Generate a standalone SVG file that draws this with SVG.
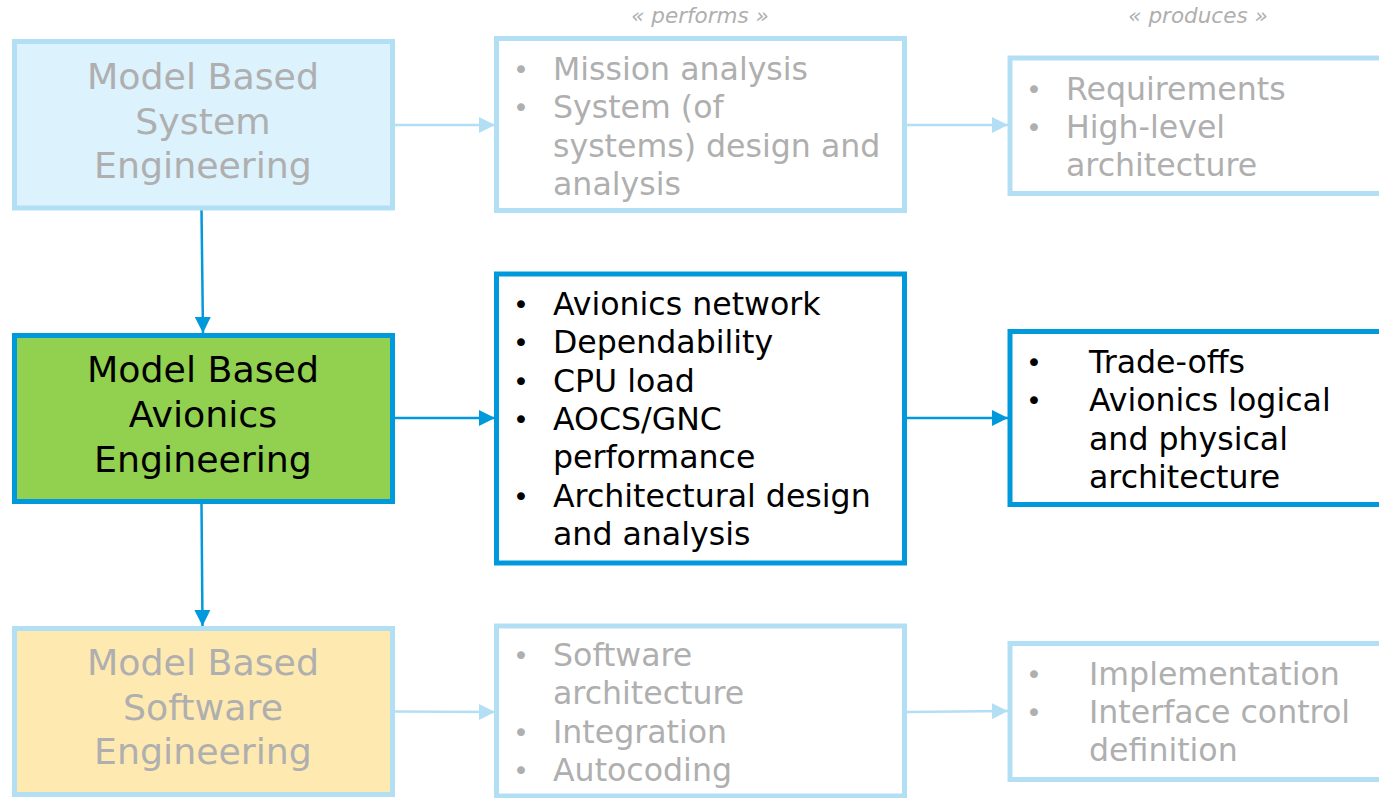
<svg xmlns="http://www.w3.org/2000/svg" width="1379" height="798" viewBox="0 0 1379 798">
  <style>
    text { font-family: "DejaVu Sans", Verdana, sans-serif; }
    .title { font-size: 36.3px; text-anchor: middle; }
    .body { font-size: 31.6px; }
    .dot { font-size: 27px; text-anchor: middle; }
    .stereo { font-size: 21.5px; font-style: italic; fill: #afafaf; text-anchor: middle; }
    .muted { fill: #afafaf; }
    .dark { fill: #000000; }
    .box-light { stroke: #b3dff4; stroke-width: 5; }
    .box-strong { stroke: #0099db; stroke-width: 5; }
    .conn-light { stroke: #b3dff4; stroke-width: 2.5; fill: none; }
    .conn-strong { stroke: #0099db; stroke-width: 2.5; fill: none; }
  </style>
  <defs>
    <marker id="arrow-light" markerUnits="userSpaceOnUse" markerWidth="16" markerHeight="16" viewBox="0 0 16 16" refX="16" refY="8" orient="auto">
      <path d="M0,0 L16,8 L0,16 z" fill="#b3dff4"/>
    </marker>
    <marker id="arrow-strong" markerUnits="userSpaceOnUse" markerWidth="16" markerHeight="16" viewBox="0 0 16 16" refX="16" refY="8" orient="auto">
      <path d="M0,0 L16,8 L0,16 z" fill="#0099db"/>
    </marker>
  </defs>

  <rect width="1379" height="798" fill="#ffffff"/>

  <!-- stereotype labels -->
  <text class="stereo" x="700" y="23">« performs »</text>
  <text class="stereo" x="1198" y="23">« produces »</text>

  <!-- connectors -->
  <g id="connectors">
    <line class="conn-light" x1="395" y1="125" x2="495" y2="125" marker-end="url(#arrow-light)"/>
    <line class="conn-light" x1="907" y1="125" x2="1008" y2="125" marker-end="url(#arrow-light)"/>
    <line class="conn-strong" x1="201.5" y1="210" x2="203" y2="333" marker-end="url(#arrow-strong)"/>
    <line class="conn-strong" x1="395" y1="418" x2="495" y2="418" marker-end="url(#arrow-strong)"/>
    <line class="conn-strong" x1="907" y1="418" x2="1008" y2="418" marker-end="url(#arrow-strong)"/>
    <line class="conn-strong" x1="201.5" y1="504" x2="202.5" y2="626" marker-end="url(#arrow-strong)"/>
    <line class="conn-light" x1="395" y1="711.5" x2="495" y2="712" marker-end="url(#arrow-light)"/>
    <line class="conn-light" x1="907" y1="712" x2="1008" y2="711" marker-end="url(#arrow-light)"/>
  </g>

  <!-- left column -->
  <g id="mbse">
    <rect class="box-light" x="14.5" y="41.5" width="378" height="166.5" fill="#dcf2fd"/>
    <text class="title muted" x="203" y="89">Model Based</text>
    <text class="title muted" x="203" y="133.5">System</text>
    <text class="title muted" x="203" y="178">Engineering</text>
  </g>

  <g id="mbae">
    <rect class="box-strong" x="14.5" y="335.5" width="378" height="166" fill="#92d050"/>
    <text class="title dark" x="203" y="381.5">Model Based</text>
    <text class="title dark" x="203" y="426.5">Avionics</text>
    <text class="title dark" x="203" y="471.5">Engineering</text>
  </g>

  <g id="mbswe">
    <rect class="box-light" x="14.5" y="628.5" width="378" height="166" fill="#fee9b1"/>
    <text class="title muted" x="203" y="675">Model Based</text>
    <text class="title muted" x="203" y="719.5">Software</text>
    <text class="title muted" x="203" y="764">Engineering</text>
  </g>

  <!-- middle column -->
  <g id="system-activities">
    <rect class="box-light" x="496.5" y="38.5" width="408" height="172" fill="#ffffff"/>
    <text class="dot muted" x="521" y="79">•</text>
    <text class="body muted" x="553" y="80">Mission analysis</text>
    <text class="dot muted" x="521" y="117.3">•</text>
    <text class="body muted" x="553" y="118.3">System (of</text>
    <text class="body muted" x="553" y="156.6">systems) design and</text>
    <text class="body muted" x="553" y="194.9">analysis</text>
  </g>

  <g id="avionics-activities">
    <rect class="box-strong" x="496.5" y="274" width="408" height="289" fill="#ffffff"/>
    <text class="dot dark" x="521" y="314">•</text>
    <text class="body dark" x="553" y="315">Avionics network</text>
    <text class="dot dark" x="521" y="352.3">•</text>
    <text class="body dark" x="553" y="353.3">Dependability</text>
    <text class="dot dark" x="521" y="390.6">•</text>
    <text class="body dark" x="553" y="391.6">CPU load</text>
    <text class="dot dark" x="521" y="428.9">•</text>
    <text class="body dark" x="553" y="429.9">AOCS/GNC</text>
    <text class="body dark" x="553" y="468.2">performance</text>
    <text class="dot dark" x="521" y="505.5">•</text>
    <text class="body dark" x="553" y="506.5">Architectural design</text>
    <text class="body dark" x="553" y="544.8">and analysis</text>
  </g>

  <g id="software-activities">
    <rect class="box-light" x="496.5" y="626" width="408" height="170" fill="#ffffff"/>
    <text class="dot muted" x="521" y="665">•</text>
    <text class="body muted" x="553" y="666">Software</text>
    <text class="body muted" x="553" y="704.3">architecture</text>
    <text class="dot muted" x="521" y="741.6">•</text>
    <text class="body muted" x="553" y="742.6">Integration</text>
    <text class="dot muted" x="521" y="779.9">•</text>
    <text class="body muted" x="553" y="780.9">Autocoding</text>
  </g>

  <!-- right column -->
  <g id="system-products">
    <rect class="box-light" x="1010" y="58" width="400" height="135.5" fill="#ffffff"/>
    <text class="dot muted" x="1034" y="98.5">•</text>
    <text class="body muted" x="1066" y="99.5">Requirements</text>
    <text class="dot muted" x="1034" y="136.8">•</text>
    <text class="body muted" x="1066" y="137.8">High-level</text>
    <text class="body muted" x="1066" y="176.1">architecture</text>
  </g>

  <g id="avionics-products">
    <rect class="box-strong" x="1010" y="331.5" width="400" height="173" fill="#ffffff"/>
    <text class="dot dark" x="1034" y="372">•</text>
    <text class="body dark" x="1089" y="373">Trade-offs</text>
    <text class="dot dark" x="1034" y="410.3">•</text>
    <text class="body dark" x="1089" y="411.3">Avionics logical</text>
    <text class="body dark" x="1089" y="449.6">and physical</text>
    <text class="body dark" x="1089" y="487.9">architecture</text>
  </g>

  <g id="software-products">
    <rect class="box-light" x="1010" y="643.5" width="400" height="136" fill="#ffffff"/>
    <text class="dot muted" x="1034" y="683.5">•</text>
    <text class="body muted" x="1089" y="684.5">Implementation</text>
    <text class="dot muted" x="1034" y="721.8">•</text>
    <text class="body muted" x="1089" y="722.8">Interface control</text>
    <text class="body muted" x="1089" y="761.1">definition</text>
  </g>
</svg>
